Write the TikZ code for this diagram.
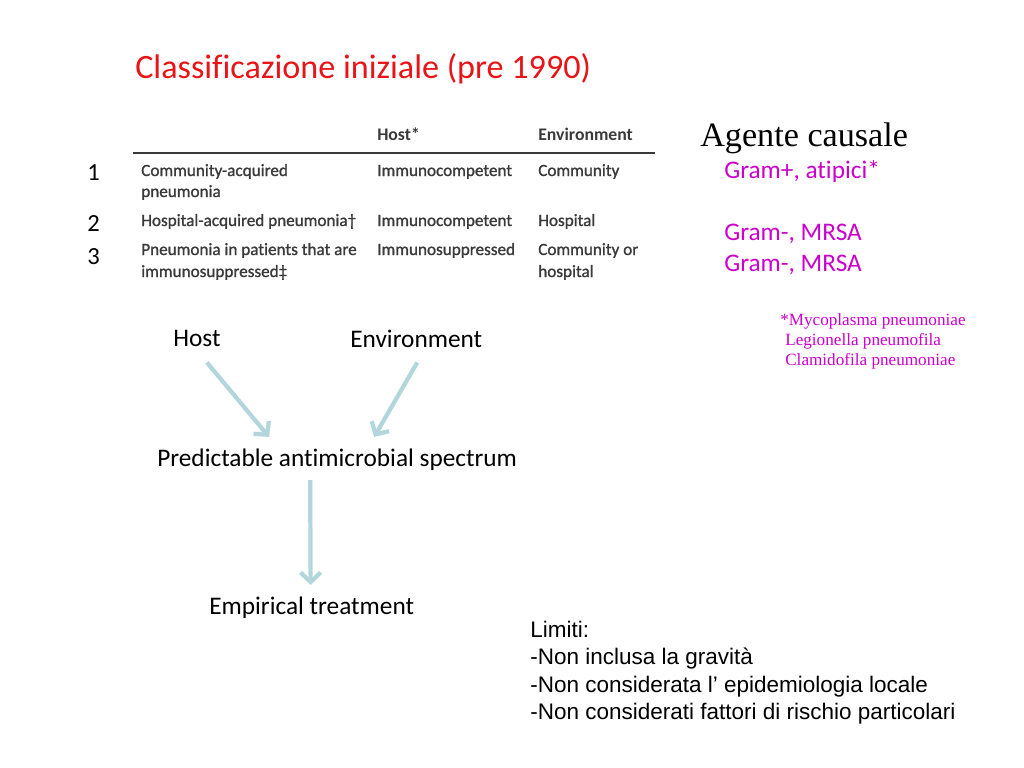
\documentclass[tikz,border=0pt]{standalone}
\usepackage{fontspec}
\setmainfont{Carlito}[Ligatures=NoCommon]
\newfontfamily\tabfont{Carlito}[Ligatures=NoCommon, FakeBold=1.2]
\newfontfamily\timesfont{Liberation Serif}
\newfontfamily\arialfont{Liberation Sans}
\usetikzlibrary{arrows.meta,positioning,calc}
\definecolor{titlered}{RGB}{232,20,24}
\definecolor{agent}{RGB}{204,0,204}
\definecolor{flowarrow}{RGB}{178,214,220}
\definecolor{tabgray}{RGB}{58,58,58}

\begin{document}
\begin{tikzpicture}[x=0.025cm, y=-0.025cm,
  txt/.style={anchor=base west, inner sep=0pt},
  tab/.style={txt, font=\tabfont\fontsize{12.2}{13}\selectfont, text=tabgray},
  tabhead/.style={txt, font=\fontsize{12.6}{13}\selectfont\bfseries, text=tabgray},
  rownum/.style={txt, font=\fontsize{17.5}{19}\selectfont},
  agentxt/.style={txt, font=\fontsize{18}{20}\selectfont, text=agent},
  note/.style={txt, font=\timesfont\fontsize{12.2}{13}\selectfont, text=agent},
  flow/.style={txt, font=\fontsize{18}{20}\selectfont},
  limit/.style={txt, font=\arialfont\fontsize{16}{18}\selectfont},
  arrow/.style={-{Straight Barb[length=2.4mm,width=5mm]}, line width=3pt, draw=flowarrow},
  node distance=0.3cm
]
  \useasboundingbox (0,0) rectangle (1024,768);

  % ── TITLE ──
  \node[txt, font=\fontsize{24.3}{28}\selectfont, text=titlered] (title) at (135,79)
    {Classificazione iniziale (pre 1990)};

  % ── TABLE ──
  \node[tabhead] (hhost) at (377,141) {Host*};
  \node[tabhead] (henv)  at (538,141) {Environment};
  \draw[line width=1.1pt, tabgray] (133,153) -- (655,153);

  \node[tab] (c1a) at (141,176) {Community-acquired};
  \node[tab] (c1b) at (141,197) {pneumonia};
  \node[tab] (h1)  at (377,176) {Immunocompetent};
  \node[tab] (e1)  at (538,176) {Community};

  \node[tab] (c2)  at (141,226) {Hospital-acquired pneumonia\textdagger};
  \node[tab] (h2)  at (377,226) {Immunocompetent};
  \node[tab] (e2)  at (538,226) {Hospital};

  \node[tab] (c3a) at (141,255) {Pneumonia in patients that are};
  \node[tab] (c3b) at (141,277) {immunosuppressed\textdaggerdbl};
  \node[tab] (h3)  at (377,255) {Immunosuppressed};
  \node[tab] (e3a) at (538,255) {Community or};
  \node[tab] (e3b) at (538,277) {hospital};

  \node[rownum] (n1) at (87,181) {1};
  \node[rownum] (n2) at (87,231) {2};
  \node[rownum] (n3) at (87,264) {3};

  % ── AGENTE CAUSALE ──
  \node[txt, font=\timesfont\fontsize{24.3}{28}\selectfont] (agente) at (700,147) {Agente causale};
  \node[agentxt] (g1) at (724,179) {Gram+, atipici*};
  \node[agentxt] (g2) at (724,240) {Gram-, MRSA};
  \node[agentxt] (g3) at (724,271) {Gram-, MRSA};

  \node[note] (myco) at (780,325) {*Mycoplasma pneumoniae};
  \node[note] (legio) at (785,345) {Legionella pneumofila};
  \node[note] (clami) at (785,365) {Clamidofila pneumoniae};

  % ── FLOW ──
  \node[flow] (host) at (173,346) {Host};
  \node[flow] (env)  at (350,347) {Environment};
  \node[flow] (pred) at (157,466) {Predictable antimicrobial spectrum};
  \node[flow] (emp)  at (209,614) {Empirical treatment};

  \draw[arrow] ($(host.south)+(10,16)$) -- ($(pred.base)+(-68,-29)$);
  \draw[arrow] ($(env.south)+(1,15)$) -- ($(pred.base)+(37,-29)$);
  \draw[arrow] ($(pred.base)+(-27,14)$) -- ($(emp.base)+(-1,-29)$);

  % ── LIMITI ──
  \node[limit] (lim0) at (530,637) {Limiti:};
  \node[limit] (lim1) at (530,664) {-Non inclusa la gravità};
  \node[limit] (lim2) at (530,692) {-Non considerata l’ epidemiologia locale};
  \node[limit] (lim3) at (530,719) {-Non considerati fattori di rischio particolari};
\end{tikzpicture}
\end{document}
